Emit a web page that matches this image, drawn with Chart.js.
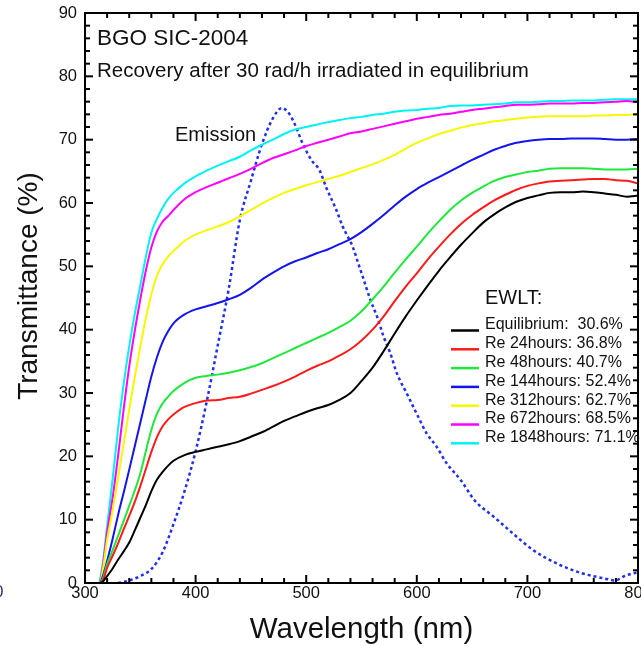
<!DOCTYPE html>
<html>
<head>
<meta charset="utf-8">
<title>BGO SIC-2004 transmittance recovery</title>
<script src="https://cdn.jsdelivr.net/npm/chart.js@4.4.1/dist/chart.umd.min.js"></script>
<style>
  html, body { margin: 0; padding: 0; background: #fff; overflow: hidden; width: 641px; height: 646px; }
  #wrap { position: absolute; left: -30px; top: 0; width: 720px; height: 646px; }
</style>
</head>
<body>
<div id="wrap"><canvas id="chart"></canvas></div>
<script>
// Wavelength grid (nm) shared by the transmittance curves
const wavelengths = [300, 313, 316, 320, 325, 330, 335, 340, 345, 350, 355, 360, 365, 370, 375, 380,
  390, 400, 410, 420, 430, 440, 450, 460, 470, 480, 490, 500, 510, 520, 530, 540, 550, 560, 570, 580,
  590, 600, 610, 620, 630, 640, 650, 660, 670, 680, 690, 700, 710, 720, 730, 740, 750, 760, 770, 780, 790, 800];

// Transmittance (%) after each recovery time (null = not measured)
const equilibrium = [0, 0, 0.2, 1.1, 2.3, 3.7, 5.0, 6.4, 8.3, 10.3, 12.3, 14.5, 16.3, 17.5, 18.5, 19.3,
  20.2, 20.7, 21.1, 21.5, 21.9, 22.4, 23.1, 23.8, 24.7, 25.6, 26.3, 27.0, 27.6, 28.1, 28.9, 30.0, 31.9, 34.0, 36.6, 39.4,
  42.1, 44.6, 47.0, 49.3, 51.4, 53.4, 55.2, 56.9, 58.2, 59.3, 60.2, 60.8, 61.2, 61.6, 61.7, 61.7, 61.8, 61.7, 61.5, 61.3, 61.0, 61.2];
const re24h = [0, 0, 0.3, 2.4, 4.3, 6.3, 8.5, 10.6, 12.8, 15.3, 18.0, 20.7, 23.0, 24.7, 25.8, 26.6,
  27.8, 28.4, 28.8, 28.9, 29.2, 29.4, 29.9, 30.5, 31.1, 31.8, 32.6, 33.5, 34.3, 35.0, 35.9, 36.9, 38.3, 40.0, 42.1, 44.5,
  46.8, 48.9, 51.1, 53.1, 55.0, 56.7, 58.1, 59.3, 60.4, 61.3, 62.1, 62.7, 63.1, 63.4, 63.5, 63.6, 63.7, 63.8, 63.8, 63.6, 63.5, 63.1];
const re48h = [0, 0, 0.6, 3.0, 5.2, 7.5, 9.8, 12.2, 14.6, 17.3, 20.8, 24.2, 26.7, 28.3, 29.4, 30.3,
  31.6, 32.4, 32.7, 32.9, 33.2, 33.6, 34.1, 34.7, 35.5, 36.3, 37.1, 37.9, 38.7, 39.5, 40.4, 41.4, 42.9, 44.8, 46.8, 49.0,
  51.1, 53.1, 55.2, 57.1, 58.9, 60.4, 61.6, 62.6, 63.5, 64.1, 64.5, 64.9, 65.1, 65.4, 65.5, 65.5, 65.5, 65.4, 65.3, 65.3, 65.3, 65.4];
const re144h = [0, 0, 1.0, 3.5, 7.0, 10.8, 14.3, 17.9, 21.6, 25.3, 29.0, 32.6, 35.6, 38.0, 39.7, 41.0,
  42.4, 43.2, 43.7, 44.2, 44.8, 45.5, 46.6, 47.9, 49.0, 50.0, 50.8, 51.4, 52.1, 52.7, 53.5, 54.3, 55.4, 56.7, 58.1, 59.6,
  61.0, 62.2, 63.2, 64.1, 65.0, 65.9, 66.8, 67.6, 68.4, 69.0, 69.5, 69.8, 70.0, 70.1, 70.1, 70.2, 70.2, 70.2, 70.1, 70.0, 70.0, 70.1];
const re312h = [0, 0, 2.0, 6.8, 11.5, 16.7, 22.0, 27.4, 32.5, 37.3, 41.8, 45.6, 48.5, 50.3, 51.5, 52.4,
  54.0, 55.0, 55.7, 56.3, 57.0, 57.9, 58.9, 59.9, 60.8, 61.6, 62.2, 62.8, 63.3, 63.8, 64.3, 64.9, 65.5, 66.1, 66.8, 67.6,
  68.6, 69.5, 70.2, 70.9, 71.4, 71.9, 72.3, 72.6, 72.9, 73.1, 73.3, 73.5, 73.6, 73.7, 73.7, 73.7, 73.7, 73.8, 73.8, 73.9, 73.9, 74.0];
const re672h = [0, 0, 2.5, 8.0, 13.5, 20.2, 27.5, 34.2, 39.8, 44.8, 49.3, 53.0, 55.5, 57.0, 57.9, 58.9,
  60.6, 61.7, 62.5, 63.2, 63.9, 64.6, 65.4, 66.3, 67.1, 67.7, 68.3, 69.0, 69.5, 70.0, 70.5, 71.0, 71.3, 71.7, 72.1, 72.5,
  72.9, 73.3, 73.6, 73.9, 74.1, 74.4, 74.7, 74.9, 75.1, 75.3, 75.5, 75.5, 75.6, 75.7, 75.7, 75.7, 75.8, 75.8, 75.9, 76.0, 76.1, 75.9];
const re1848h = [null, 0, 3.0, 9.0, 16.5, 24.5, 31.5, 37.4, 42.5, 47.0, 51.5, 55.3, 57.5, 59.2, 60.6, 61.6,
  63.1, 64.2, 65.1, 65.9, 66.6, 67.3, 68.3, 69.2, 70.0, 70.9, 71.6, 72.0, 72.4, 72.8, 73.1, 73.4, 73.6, 73.9, 74.1, 74.4,
  74.6, 74.7, 74.9, 75.0, 75.3, 75.4, 75.4, 75.5, 75.6, 75.7, 75.9, 75.9, 76.0, 76.1, 76.1, 76.2, 76.2, 76.2, 76.3, 76.4, 76.4, 76.4];

// Emission spectrum (arbitrary units on the same axis)
const emissionWavelengths = [330, 340, 350, 360, 370, 380, 390, 400, 410, 420, 430, 440, 450, 460, 470, 478,
  485, 490, 497, 505, 512, 518, 527, 533, 542, 547, 552, 558, 564, 570, 576, 582, 591, 600, 609, 618, 627,
  640, 652, 670, 691, 706, 730, 750, 770, 779, 789, 800];
const emission = [0, 0.4, 1.1, 2.2, 4.8, 9.3, 14.5, 20.8, 28.6, 37.5, 46.5, 57.3, 63.5, 69.3, 73.4, 75.0,
  74.0, 72.3, 69.3, 66.7, 65.2, 62.5, 59.0, 56.3, 53.1, 50.5, 47.9, 44.7, 42.1, 38.9, 36.3, 33.1, 29.9, 26.7, 23.6, 21.5, 18.9,
  16.2, 13.1, 10.4, 7.2, 5.1, 2.8, 1.5, 0.7, 0.4, 1.2, 1.7];

const seriesNames = ['Equilibrium', 'Re 24hours', 'Re 48hours', 'Re 144hours', 'Re 312hours', 'Re 672hours', 'Re 1848hours'];
const seriesEWLT = [30.6, 36.8, 40.7, 52.4, 62.7, 68.5, 71.1];
const seriesValues = [equilibrium, re24h, re48h, re144h, re312h, re672h, re1848h];
const seriesColors = ['#000000', '#ff1a1a', '#1ee83c', '#1414ee', '#f7f700', '#ff00ff', '#00f2f2'];

const xTicks = [300, 400, 500, 600, 700, 800];
const yTicks = [0, 10, 20, 30, 40, 50, 60, 70, 80, 90];

const FONT = "'Liberation Sans', Arial, Helvetica, sans-serif";

const toPoints = (xs, ys) => xs.map((x, i) => ({ x, y: ys[i] }));

const datasets = seriesValues.map((vals, i) => ({
  label: seriesNames[i],
  data: toPoints(wavelengths, vals),
  borderColor: seriesColors[i],
  borderWidth: 2,
  pointRadius: 0,
  cubicInterpolationMode: 'monotone',
  fill: false
}));
datasets.push({
  label: 'Emission',
  data: toPoints(emissionWavelengths, emission),
  borderColor: '#1f2ff0',
  borderWidth: 2.5,
  borderDash: [3, 3],
  pointRadius: 0,
  cubicInterpolationMode: 'monotone',
  fill: false
});

// Boxed frame with inward major/minor ticks on all four sides, plus annotations
const framePlugin = {
  id: 'frame',
  afterDatasetsDraw(chart) {
    const { ctx, chartArea: a, scales: { x, y } } = chart;
    ctx.save();
    ctx.strokeStyle = '#000';
    ctx.lineWidth = 2;
    const seg = (x1, y1, x2, y2) => { ctx.beginPath(); ctx.moveTo(x1, y1); ctx.lineTo(x2, y2); ctx.stroke(); };
    const major = 8, minor = 5;
    for (let v = x.min; v <= x.max; v += 20) {
      const p = x.getPixelForValue(v);
      const len = xTicks.includes(v) ? major : minor;
      seg(p, a.bottom, p, a.bottom - len);
      seg(p, a.top, p, a.top + len);
    }
    for (let v = y.min; v <= y.max; v += 2) {
      const p = y.getPixelForValue(v);
      const len = yTicks.includes(v) ? major : minor;
      seg(a.left, p, a.left + len, p);
      seg(a.right, p, a.right - len, p);
    }
    ctx.strokeRect(a.left, a.top, a.right - a.left, a.bottom - a.top);
    ctx.restore();
  },
  afterDraw(chart) {
    const { ctx, chartArea: a } = chart;
    ctx.save();
    ctx.fillStyle = '#111';
    ctx.textAlign = 'left';
    ctx.textBaseline = 'alphabetic';
    ctx.font = `22.5px ${FONT}`;
    ctx.fillText('BGO SIC-2004', a.left + 12, 45);
    ctx.font = `20.5px ${FONT}`;
    ctx.fillText('Recovery after 30 rad/h irradiated in equilibrium', a.left + 12, 77);
    ctx.font = `20px ${FONT}`;
    ctx.fillText('Emission', a.left + 90, 140.5);

    // legend
    ctx.font = `20px ${FONT}`;
    ctx.textBaseline = 'middle';
    ctx.fillText('EWLT:', a.left + 400, 298);
    ctx.font = `16px ${FONT}`;
    seriesNames.forEach((name, i) => {
      const yy = 325 + i * 18.8;
      ctx.strokeStyle = seriesColors[i];
      ctx.lineWidth = 2.5;
      ctx.beginPath();
      ctx.moveTo(a.left + 366, yy + 5.5);
      ctx.lineTo(a.left + 394, yy + 5.5);
      ctx.stroke();
      ctx.fillStyle = '#111';
      ctx.fillText(`${name}:${i === 0 ? '  ' : ' '}${seriesEWLT[i].toFixed(1)}%`, a.left + 400, yy);
    });

    // axis titles
    ctx.textAlign = 'center';
    ctx.font = `29.5px ${FONT}`;
    ctx.fillText('Wavelength (nm)', (a.left + a.right) / 2, 630);
    ctx.font = `28px ${FONT}`;
    ctx.save();
    ctx.translate(a.left - 56, 286);
    ctx.rotate(-Math.PI / 2);
    ctx.fillText('Transmittance (%)', 0, 0);
    ctx.restore();

    // edge of the neighbouring panel's axis label
    ctx.textAlign = 'right';
    ctx.fillStyle = '#223366';
    ctx.font = `16.5px ${FONT}`;
    ctx.fillText('0', a.left - 81.5, 592);
    ctx.restore();
  }
};

new Chart(document.getElementById('chart'), {
  type: 'line',
  data: { datasets },
  plugins: [framePlugin],
  options: {
    responsive: true,
    maintainAspectRatio: false,
    animation: false,
    devicePixelRatio: 1,
    events: [],
    layout: { padding: { left: 0, right: 52, top: 13, bottom: 0 } },
    plugins: { legend: { display: false }, tooltip: { enabled: false } },
    scales: {
      x: {
        type: 'linear', min: 300, max: 800,
        grid: { display: false, drawTicks: false },
        border: { display: false },
        ticks: {
          stepSize: 100, autoSkip: false, maxRotation: 0, padding: 1,
          color: '#111', font: { family: FONT, size: 16.5 },
          callback: (v) => (xTicks.includes(v) ? String(v) : '')
        },
        afterFit(s) { s.height = 63; s.paddingLeft = 0; s.paddingRight = 0; }
      },
      y: {
        type: 'linear', min: 0, max: 90,
        grid: { display: false, drawTicks: false },
        border: { display: false },
        ticks: {
          stepSize: 10, autoSkip: false, padding: 8,
          color: '#111', font: { family: FONT, size: 16.5 },
          callback: (v) => (yTicks.includes(v) ? String(v) : '')
        },
        afterFit(s) { s.width = 115; s.paddingTop = 0; s.paddingBottom = 0; }
      }
    }
  }
});
</script>
</body>
</html>
